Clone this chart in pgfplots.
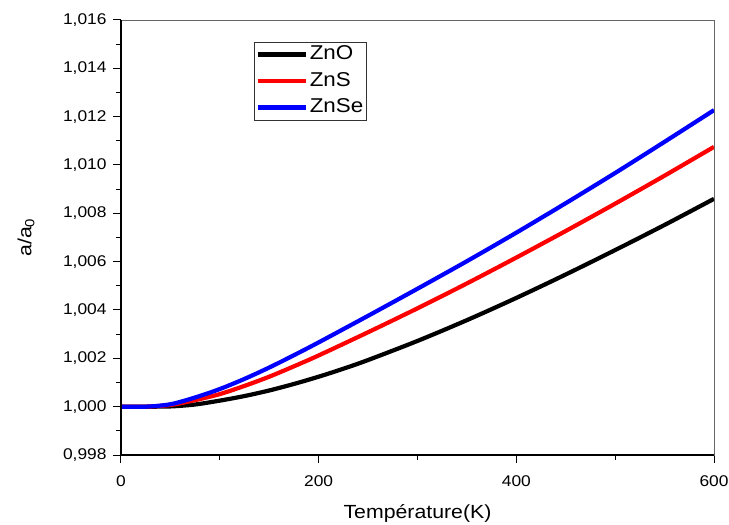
\documentclass[border=0pt]{standalone}
\usepackage{fontspec}
\setmainfont{Liberation Sans}[FakeStretch=1.12]
\usepackage{pgfplots}
\pgfplotsset{compat=1.18}
\pgfplotstableread{
T v
0 1.00000
25 1.00000
50 1.00001
75 1.00009
100 1.00025
125 1.00044
150 1.00067
175 1.00094
200 1.00124
225 1.00157
250 1.00193
300 1.00272
350 1.00358
400 1.00450
450 1.00547
500 1.00648
550 1.00752
600 1.00860
}\znO
\pgfplotstableread{
T v
0 1.00000
25 1.00000
50 1.00007
75 1.00027
100 1.00052
125 1.00086
150 1.00124
175 1.00167
200 1.00212
250 1.00308
300 1.00407
350 1.00510
400 1.00617
450 1.00727
500 1.00840
550 1.00956
600 1.01075
}\znS
\pgfplotstableread{
T v
0 1.00000
25 1.00000
50 1.00010
75 1.00038
100 1.00073
125 1.00115
150 1.00162
175 1.00213
200 1.00266
250 1.00376
300 1.00488
350 1.00602
400 1.00720
450 1.00842
500 1.00967
550 1.01096
600 1.01227
}\znSe
\begin{document}
\begin{tikzpicture}
\useasboundingbox (-121bp,-70bp) rectangle (608bp,455bp);
\begin{axis}[
  at={(0,0)}, anchor=south west,
  scale only axis, width=593bp, height=435bp,
  xmin=0, xmax=600, ymin=0.998, ymax=1.016,
  xtick={0,200,400,600},
  ytick={0.998,1.000,1.002,1.004,1.006,1.008,1.010,1.012,1.014,1.016},
  minor x tick num=1, minor y tick num=1,
  tick align=outside, xtick pos=left, ytick pos=left,
  major tick length=8bp, minor tick length=5bp,
  every tick/.style={black, line width=1bp},
  axis line style={black!60, line width=0.6bp},
  scaled y ticks=false,
  y tick label style={/pgf/number format/fixed, /pgf/number format/fixed zerofill, /pgf/number format/precision=3, /pgf/number format/use comma, /pgf/number format/assume math mode=true, xshift=-3bp},
  x tick label style={/pgf/number format/assume math mode=true, yshift=-9bp},
  tick label style={font=\fontsize{15.5bp}{18bp}\selectfont, black},
  xlabel={Température(K)},
  ylabel={a/a\textsubscript{0}},
  label style={font=\fontsize{19bp}{22bp}\selectfont},
  x label style={at={(axis description cs:0.5,-0.145)}, anchor=base},
  y label style={at={(axis description cs:-0.16,0.5)}, anchor=center},
  legend style={at={(axis description cs:0.2243,0.95)}, anchor=north west,
    draw=black!80, line width=0.6bp, font=\fontsize{20bp}{22bp}\selectfont,
    inner xsep=1bp, inner ysep=0.5bp, row sep=2.5bp,
    nodes={inner xsep=2bp, inner ysep=3bp, text height=14bp, text depth=4bp}},
  legend cell align=left,
  legend image code/.code={\draw[#1, line width=4.5bp] (0bp,0bp) -- (48bp,0bp);},
  after end axis/.code={\draw[black, line width=1.3bp] (rel axis cs:0,1) -- (rel axis cs:0,0) -- (rel axis cs:1,0);},
]
\addplot[black, line width=4.2bp, smooth] table[x=T,y=v] {\znO};
\addlegendentry{ZnO}
\addplot[red, line width=4.2bp, smooth] table[x=T,y=v] {\znS};
\addlegendentry{ZnS}
\addplot[blue, line width=4.2bp, smooth] table[x=T,y=v] {\znSe};
\addlegendentry{ZnSe}
\end{axis}
\end{tikzpicture}
\end{document}
